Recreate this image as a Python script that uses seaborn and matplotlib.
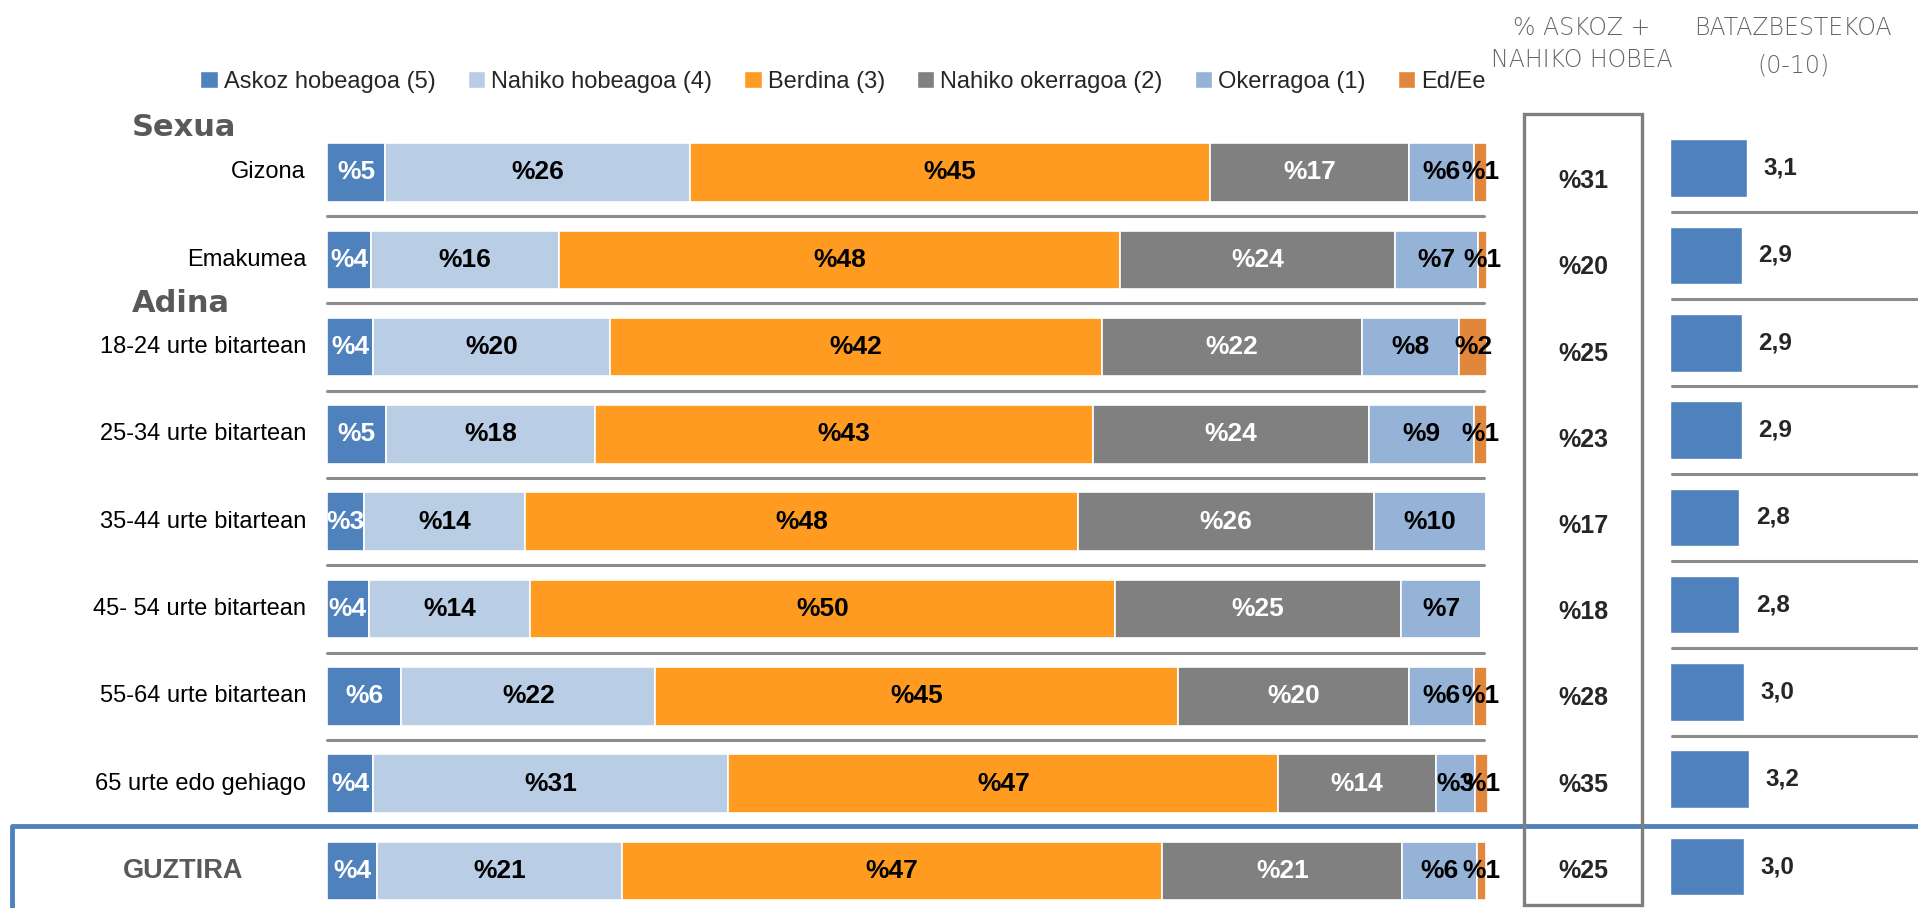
import matplotlib
matplotlib.use("Agg")
import matplotlib.pyplot as plt
from matplotlib.patches import Patch, Rectangle
from matplotlib.lines import Line2D
import seaborn as sns
import pandas as pd

rows = ["Gizona", "Emakumea", "18-24 urte bitartean", "25-34 urte bitartean",
        "35-44 urte bitartean", "45- 54 urte bitartean", "55-64 urte bitartean",
        "65 urte edo gehiago", "GUZTIRA"]

askoz = [5.0, 3.8, 4.0, 5.1, 3.2, 3.6, 6.4, 4.0, 4.3]
nahiko_hob = [26.3, 16.2, 20.4, 18.0, 13.9, 13.9, 21.9, 30.6, 21.1]
berdina = [44.8, 48.4, 42.4, 42.9, 47.6, 50.4, 45.1, 47.4, 46.6]
nahiko_oker = [17.2, 23.7, 22.4, 23.8, 25.6, 24.7, 19.9, 13.6, 20.7]
okerragoa = [5.6, 7.1, 8.4, 9.1, 9.6, 6.9, 5.6, 3.4, 6.4]
ed_ee = [1.1, 0.8, 2.4, 1.1, 0.0, 0.0, 1.1, 1.1, 0.8]

legend_labels = ["Askoz hobeagoa (5)", "Nahiko hobeagoa (4)", "Berdina (3)",
                 "Nahiko okerragoa (2)", "Okerragoa (1)", "Ed/Ee"]

askoz_nahiko = [31, 20, 25, 23, 17, 18, 28, 35, 25]
means = [3.1, 2.9, 2.9, 2.9, 2.8, 2.8, 3.0, 3.2, 3.0]

colors = ["#4F81BD", "#B9CDE5", "#FF9B21", "#808080", "#95B3D7", "#E0873C"]
text_colors = ["white", "black", "black", "white", "black", "black"]
dark_grey = "#595959"

# figure is laid out in pixels of the 1918x908 target
W, H = 1918, 908
X0 = 327          # pixel where 0 % starts
PX_PCT = 11.6     # pixels per percent
ROW0 = 172.5      # pixel centre of first row
ROW_H = 87.3      # pixels between rows


def fx(px):
    return px / W


def fy(py):
    return 1 - py / H


sns.set_theme(style="white")
plt.rcParams["font.family"] = ["Liberation Sans", "DejaVu Sans"]

fig = plt.figure(figsize=(W / 100, H / 100), dpi=100)
ylim = ((H - ROW0) / ROW_H, -ROW0 / ROW_H)

# stacked bars
ax = fig.add_axes([0, 0, fx(1660), 1])
ax.set_xlim(-X0 / PX_PCT, (1660 - X0) / PX_PCT)
ax.set_ylim(*ylim)
ax.axis("off")

series = [askoz, nahiko_hob, berdina, nahiko_oker, okerragoa, ed_ee]
ypos = list(range(len(rows)))
left = [0.0] * len(rows)
for vals, clr, tc in zip(series, colors, text_colors):
    ax.barh(ypos, vals, left=left, height=0.67, color=clr,
            edgecolor="white", linewidth=1.2)
    for i, v in enumerate(vals):
        if v > 0:
            ax.text(left[i] + v / 2, i, "%{:.0f}".format(v), ha="center",
                    va="center", color=tc, fontsize=19, fontweight="bold")
    left = [l + v for l, v in zip(left, vals)]

for i in range(7):
    ax.plot([0, 99.7], [i + 0.5, i + 0.5], color="#8c8c8c", lw=2.2)

for i, r in enumerate(rows[:-1]):
    ax.text(-1.8, i, r, ha="right", va="center", fontsize=17, color="black")

ax.text(-12.4, 8, rows[-1], ha="center", va="center", fontsize=19.5,
        fontweight="bold", color=dark_grey)
ax.text(-16.8, -0.52, "Sexua", ha="left", va="center", fontsize=22,
        fontweight="bold", color=dark_grey, family="DejaVu Sans")
ax.text(-16.8, 1.5, "Adina", ha="left", va="center", fontsize=22,
        fontweight="bold", color=dark_grey, family="DejaVu Sans")

# % askoz + nahiko column
ax.add_patch(Rectangle((103.2, -0.67), 10.2, 9.06, fill=False,
                       edgecolor="#7f7f7f", lw=2.4, zorder=3))
for i, v in enumerate(askoz_nahiko):
    ax.text(108.3, i + 0.1 * (1 - i / 8), "%{}".format(v), ha="center",
            va="center", fontsize=18, fontweight="bold")

# mean panel
axm = fig.add_axes([fx(1669.5), 0, 1 - fx(1669.5), 1])
df = pd.DataFrame({"row": rows, "mean": means})
sns.barplot(data=df, x="mean", y="row", color=colors[0], saturation=1,
            width=0.66, ax=axm)
axm.set_xlim(0, 10.0)
axm.set_ylim(ylim[0] + 0.05, ylim[1] + 0.05)
axm.axis("off")
for i in range(7):
    axm.plot([0.1, 10.0], [i + 0.5, i + 0.5], color="#8c8c8c", lw=2.2)
for i, m in enumerate(means):
    axm.text(m + 0.67, i, "{:.1f}".format(m).replace(".", ","), ha="left",
             va="center", fontsize=17.5, fontweight="bold")

# blue frame around GUZTIRA
fig.add_artist(Line2D([fx(12), fx(12), 1], [0, fy(825.6), fy(825.6)],
                      transform=fig.transFigure, color=colors[0], lw=3.5,
                      solid_joinstyle="round", zorder=-1))

# headers
fig.text(fx(1581.6), fy(44), "% ASKOZ +\nNAHIKO HOBEA", ha="center",
         va="center", fontsize=17, color="#666666", linespacing=1.45,
         family="DejaVu Sans", fontweight="light")
fig.text(fx(1793), fy(47), "BATAZBESTEKOA\n(0-10)", ha="center",
         va="center", fontsize=17, color="#666666", linespacing=1.7,
         family="DejaVu Sans", fontweight="light")

handles = [Patch(facecolor=c) for c in colors]
fig.legend(handles, legend_labels, loc="center",
           bbox_to_anchor=(fx(843), fy(82)), ncol=6, frameon=False,
           fontsize=17, handlelength=0.75, handleheight=0.75,
           handletextpad=0.25, columnspacing=1.35)

fig.savefig("out.png", dpi=100)
